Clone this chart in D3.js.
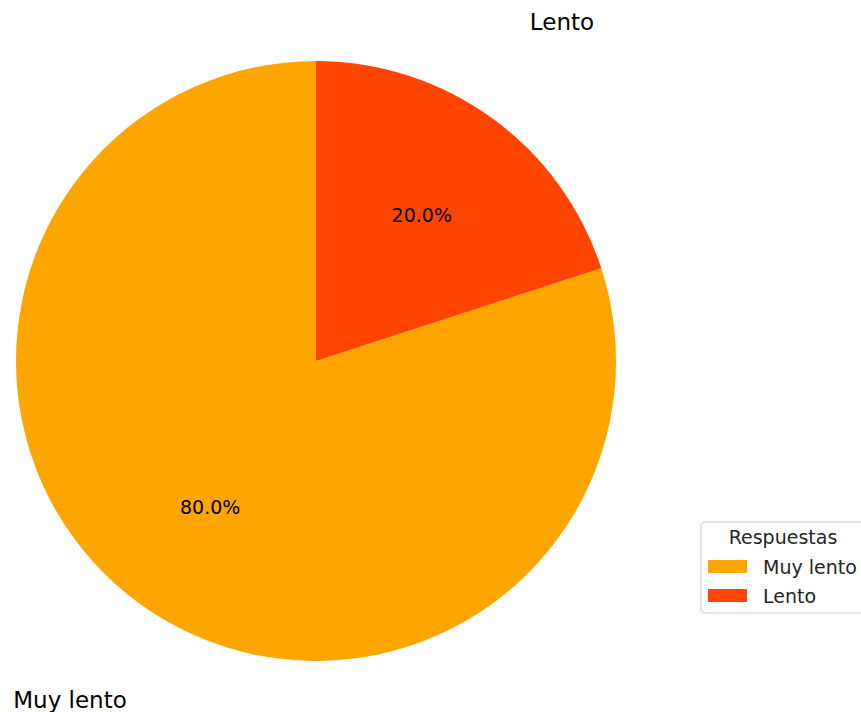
<!DOCTYPE html>
<html>
<head>
<meta charset="utf-8">
<script src="https://cdn.jsdelivr.net/npm/d3@7"></script>
<style>
  html, body { margin: 0; padding: 0; background: #fff; }
  svg { display: block; font-family: "DejaVu Sans", sans-serif; }
</style>
</head>
<body>
<svg id="chart" width="861" height="712"></svg>
<script>
// Survey answers and their shares
const categories = ["Muy lento", "Lento"];
const values = [80, 20];
const colors = ["#FFA500", "#FF4500"];
const legendTitle = "Respuestas";

const svg = d3.select("#chart");
const cx = 316, cy = 361, radius = 300;

// Matplotlib-style pie: start at the top, go counter-clockwise
const pie = d3.pie()
  .sort(null)
  .value(d => d.value)
  .startAngle(0)
  .endAngle(-2 * Math.PI);

const data = categories.map((c, i) => ({ label: c, value: values[i], color: colors[i] }));
const arcs = pie(data);
const total = d3.sum(values);

const arc = d3.arc().innerRadius(0).outerRadius(radius);
const g = svg.append("g").attr("transform", `translate(${cx},${cy})`);

g.selectAll("path.slice")
  .data(arcs)
  .join("path")
  .attr("class", "slice")
  .attr("d", arc)
  .attr("fill", d => d.data.color);

// Point at a given fraction of the radius along the slice's middle angle
function along(d, frac) {
  const a = (d.startAngle + d.endAngle) / 2;
  return [Math.sin(a) * radius * frac, -Math.cos(a) * radius * frac];
}

// Percentage labels inside each slice
g.selectAll("text.pct")
  .data(arcs)
  .join("text")
  .attr("class", "pct")
  .attr("x", d => along(d, 0.6)[0])
  .attr("y", d => along(d, 0.6)[1])
  .attr("text-anchor", "middle")
  .attr("dominant-baseline", "central")
  .attr("font-size", 19)
  .attr("fill", "#000")
  .text(d => (d.data.value / total * 100).toFixed(1) + "%");

// Category labels outside the pie
g.selectAll("text.cat")
  .data(arcs)
  .join("text")
  .attr("class", "cat")
  .attr("x", d => along(d, 1.395)[0])
  .attr("y", d => along(d, 1.395)[1])
  .attr("text-anchor", "middle")
  .attr("dominant-baseline", "central")
  .attr("font-size", 23)
  .attr("fill", "#000")
  .text(d => d.data.label);

// Legend
const lg = svg.append("g").attr("transform", "translate(701,522)");
lg.append("rect")
  .attr("x", 0).attr("y", 0)
  .attr("width", 180).attr("height", 91)
  .attr("rx", 4)
  .attr("fill", "#fff").attr("fill-opacity", 0.8)
  .attr("stroke", "#d0d0d0").attr("stroke-width", 1.2);

lg.append("text")
  .attr("x", 82).attr("y", 22)
  .attr("text-anchor", "middle")
  .attr("font-size", 19)
  .attr("fill", "#262626")
  .text(legendTitle);

const items = lg.selectAll("g.item")
  .data(data)
  .join("g")
  .attr("class", "item")
  .attr("transform", (d, i) => `translate(7,${38 + i * 29})`);

items.append("rect")
  .attr("width", 39).attr("height", 13)
  .attr("fill", d => d.color);

items.append("text")
  .attr("x", 55).attr("y", 7)
  .attr("dominant-baseline", "central")
  .attr("font-size", 19)
  .attr("fill", "#262626")
  .text(d => d.label);
</script>
</body>
</html>
